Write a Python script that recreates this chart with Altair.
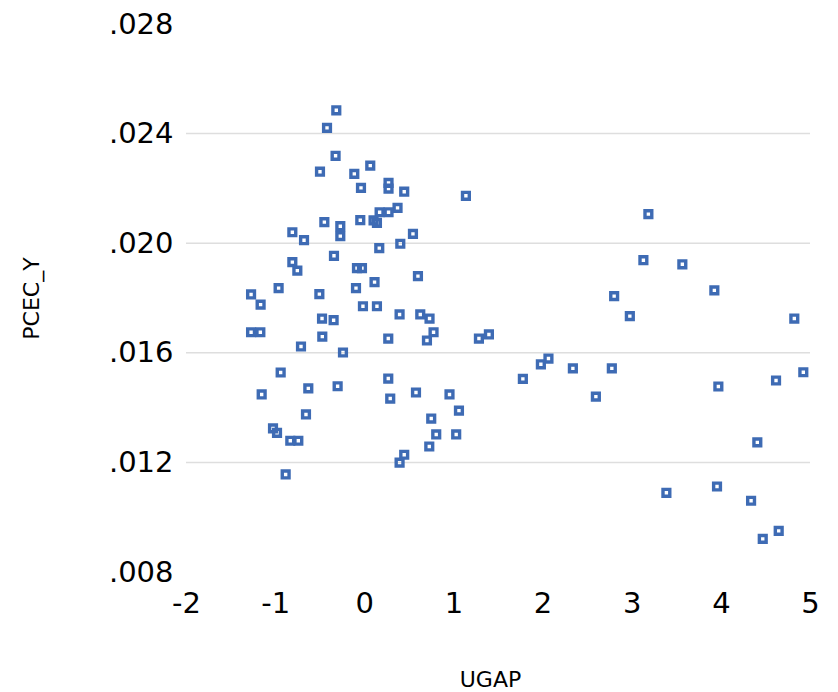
import altair as alt
import pandas as pd

ugap = [
    -0.314, -0.418, -0.322, 0.067, -0.497, -0.112, 0.272, 0.272, -0.037, 0.448,
    1.140, 0.373, 0.172, 0.272, -0.045, 0.104, 0.142, -0.448, -0.269, -0.269,
    -0.807, -0.676, 0.546, 0.404, 0.168, -0.340, -0.807, -0.751, -0.082, -0.026,
    0.602, 0.115, -0.961, -1.270, -0.504, -0.093, -1.163, -0.015, 0.142, 0.396,
    0.628, 0.732, -0.474, -0.344, -1.270, -1.166, 0.777, 0.703, -0.471, 0.269,
    1.286, 1.398, -0.710, -0.239, -0.938, 0.269, -1.151, -0.628, -0.299, 0.291,
    0.580, 0.956, 1.062, -0.654, 0.751, -1.024, -0.979, -0.830, -0.740, 0.807,
    1.031, 0.729, 0.448, 0.396, -0.882,
    3.187, 3.131, 3.568, 3.927, 2.803, 2.979, 4.824, 2.066, 1.981, 2.340,
    2.777, 1.779, 4.925, 4.619, 3.972, 2.598, 4.409, 3.389, 3.957, 4.339,
    4.649, 4.470,
]
pcec_y = [
    0.02485, 0.02421, 0.02319, 0.02283, 0.02261, 0.02253, 0.02220, 0.02199, 0.02202, 0.02188,
    0.02173, 0.02129, 0.02113, 0.02113, 0.02084, 0.02083, 0.02074, 0.02077, 0.02062, 0.02026,
    0.02040, 0.02011, 0.02034, 0.01998, 0.01982, 0.01954, 0.01931, 0.01900, 0.01909, 0.01909,
    0.01880, 0.01858, 0.01836, 0.01813, 0.01814, 0.01836, 0.01776, 0.01770, 0.01770, 0.01740,
    0.01740, 0.01725, 0.01725, 0.01719, 0.01675, 0.01675, 0.01675, 0.01645, 0.01659, 0.01652,
    0.01652, 0.01667, 0.01623, 0.01601, 0.01528, 0.01506, 0.01448, 0.01470, 0.01478, 0.01433,
    0.01455, 0.01448, 0.01389, 0.01375, 0.01360, 0.01324, 0.01308, 0.01279, 0.01279, 0.01302,
    0.01302, 0.01258, 0.01228, 0.01199, 0.01156,
    0.02106, 0.01938, 0.01923, 0.01828, 0.01807, 0.01734, 0.01725, 0.01579, 0.01558, 0.01543,
    0.01543, 0.01505, 0.01529, 0.01499, 0.01477, 0.01440, 0.01273, 0.01089, 0.01112, 0.01060,
    0.00950, 0.00921,
]
y_ticks = [0.008, 0.012, 0.016, 0.020, 0.024, 0.028]
grid_values = [0.012, 0.016, 0.020, 0.024]
x_ticks = [-2, -1, 0, 1, 2, 3, 4, 5]

df = pd.DataFrame({"UGAP": ugap, "PCEC_Y": pcec_y})
grid_df = pd.DataFrame({"g": grid_values})

FONT = "DejaVu Sans"
xscale = alt.Scale(domain=[-2, 5], nice=False, zero=False)
yscale = alt.Scale(domain=[0.008, 0.028], nice=False, zero=False)

x_axis = alt.Axis(
    values=x_ticks,
    labelExpr="'' + datum.value",
    grid=False, ticks=False, tickSize=0, domain=False,
    labelFont=FONT, labelFontSize=29, labelColor="#000000",
    labelPadding=17, labelFlush=False, labelOverlap=False,
    title="UGAP", titleFont=FONT, titleFontSize=22, titleFontWeight="normal",
    titleColor="#000000", titleX=304, titleY=107,
    titleAlign="center", titleBaseline="middle",
)
y_axis = alt.Axis(
    values=y_ticks,
    labelExpr="substring(format(datum.value, '.3f'), 1)",
    grid=False, ticks=False, tickSize=0, domain=False,
    labelFont=FONT, labelFontSize=29, labelColor="#000000",
    labelPadding=13, labelFlush=False, labelOverlap=False,
    title="PCEC_Y", titleFont=FONT, titleFontSize=22, titleFontWeight="normal",
    titleColor="#000000", titleX=-155, titleY=274, titleAngle=270,
    titleAlign="center", titleBaseline="middle",
)

grid = alt.Chart(grid_df).mark_rule(color="#DEDEDE", strokeWidth=1.5).encode(
    y=alt.Y("g:Q", scale=yscale, axis=y_axis)
)

points = alt.Chart(df).mark_point(
    shape="square", filled=False, color="#3E6BB4", strokeWidth=3.4, size=46, opacity=1
).encode(
    x=alt.X("UGAP:Q", scale=xscale, axis=x_axis),
    y=alt.Y("PCEC_Y:Q", scale=yscale, axis=y_axis),
)

chart = (
    alt.layer(grid, points)
    .properties(
        width=624,
        height=548,
        autosize=alt.AutoSizeParams(type="none"),
        padding={"left": 178, "top": 16, "right": 20, "bottom": 118},
        background="white",
    )
    .configure_view(stroke=None)
)

chart.save("out.html", embed_options={"renderer": "svg", "actions": False})
